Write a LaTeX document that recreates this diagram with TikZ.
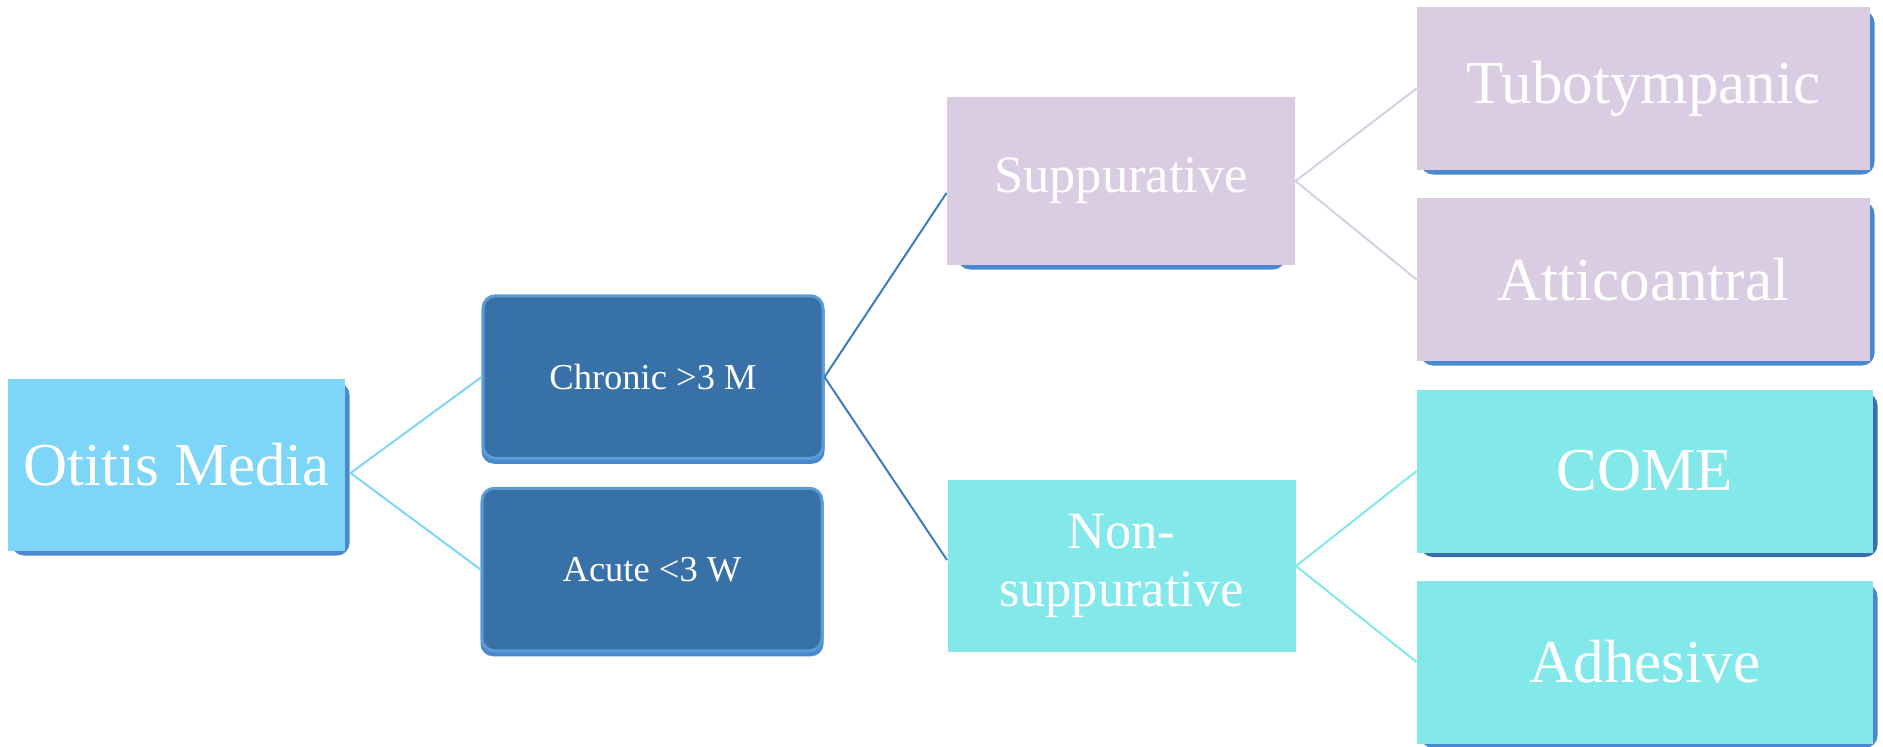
\documentclass[tikz,border=0pt]{standalone}
\usepackage{fontspec}
\setmainfont{Liberation Serif}
\usetikzlibrary{
  backgrounds,
  calc,
}

\definecolor{skyblue}{RGB}{125,213,247}
\definecolor{shadeblue}{RGB}{74,137,207}
\definecolor{shadedark}{RGB}{58,110,168}
\definecolor{navy}{RGB}{56,112,168}
\definecolor{navyrim}{RGB}{91,155,213}
\definecolor{navyline}{RGB}{61,125,190}
\definecolor{lilac}{RGB}{218,205,227}
\definecolor{aqua}{RGB}{131,232,234}

\begin{document}
\begin{tikzpicture}[
  x=0.4pt, y=-0.4pt,
  box/.style={inner sep=0pt, text=white, align=center},
  bigtext/.style={font=\fontsize{24.4}{26}\selectfont},
  midtext/.style={font=\fontsize{21}{23.5}\selectfont},
  smalltext/.style={font=\fontsize{14.6}{17}\selectfont},
  navybox/.style={box, smalltext, fill=navy, draw=navyrim, line width=1.2pt,
    rounded corners=5pt, minimum width=136pt, minimum height=65pt},
  leafbox/.style={box, bigtext, minimum height=65.2pt},
  link/.style={line width=0.8pt},
]
\useasboundingbox (0,0) rectangle (1883,746);

% nodes
\node[box, bigtext, fill=skyblue, minimum width=134.8pt, minimum height=68.8pt]
  (om) at (176.5,465) {Otitis Media};
\node[navybox] (chr) at (653,377) {Chronic >3 M};
\node[navybox] (acu) at (652,569.5) {Acute <3 W};
\node[box, midtext, fill=lilac, minimum width=139.2pt, minimum height=67.2pt]
  (sup) at (1121,181) {Suppurative};
\node[box, midtext, fill=aqua, minimum width=139.2pt, minimum height=68.8pt]
  (non) at (1121.5,566) {Non-\\suppurative};
\node[leafbox, fill=lilac, minimum width=181.2pt] (tub) at (1643.5,88.5) {Tubotympanic};
\node[leafbox, fill=lilac, minimum width=181.2pt] (att) at (1643.5,279.5) {Atticoantral};
\node[leafbox, fill=aqua, minimum width=182.4pt] (come) at (1645,471) {COME};
\node[leafbox, fill=aqua, minimum width=182.4pt] (adh) at (1645,662) {Adhesive};

% shadows
\begin{scope}[on background layer]
  \foreach \n in {om,tub,att,adh}
    \fill[shadeblue, rounded corners=5pt]
      ([shift={(4,4)}]\n.north west) rectangle ([shift={(4,4)}]\n.south east);
  \fill[shadedark, rounded corners=5pt]
    ([shift={(4,4)}]come.north west) rectangle ([shift={(4,4)}]come.south east);
  \fill[shadeblue, rounded corners=5pt]
    ([shift={(11,4)}]sup.north west) rectangle ([shift={(-10,4)}]sup.south east);
  \foreach \n in {chr,acu}
    \fill[shadeblue, rounded corners=5pt]
      ([shift={(0,4)}]\n.north west) rectangle ([shift={(0,4)}]\n.south east);
\end{scope}

% connectors
\foreach \k in {chr,acu}
  \draw[link, skyblue] ([shift={(5,8)}]om.east) -- (\k.west);
\draw[link, navyline] (chr.east) -- ([shift={(0,12)}]sup.west);
\draw[link, navyline] (chr.east) -- ([shift={(0,-6)}]non.west);
\foreach \k in {tub,att}
  \draw[link, lilac] (sup.east) -- (\k.west);
\foreach \k in {come,adh}
  \draw[link, aqua] (non.east) -- (\k.west);
\end{tikzpicture}
\end{document}
